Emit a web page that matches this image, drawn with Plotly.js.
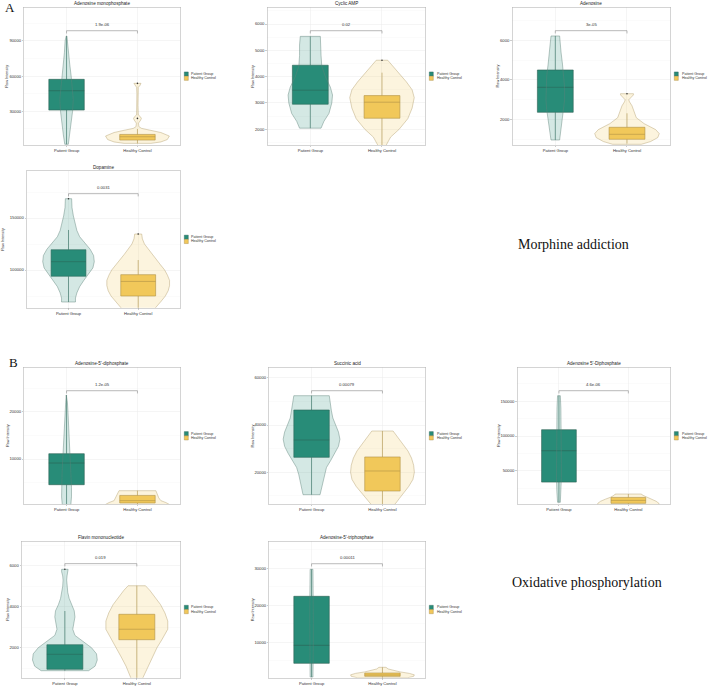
<!DOCTYPE html>
<html><head><meta charset="utf-8">
<script src="https://cdn.plot.ly/plotly-3.0.1.min.js"></script>
<style>html,body{margin:0;padding:0;background:#fff}#chart{width:709px;height:686px}</style>
</head><body><div id="chart"></div>
<script>
// ---------------- DATA ----------------
const titles = ['Adenosine monophosphate','Cyclic AMP','Adenosine','Dopamine',
  "Adenosine-5'-diphosphate",'Succinic acid',"Adenosine 5'-Diphosphate",
  'Flavin mononucleotide',"Adenosine-5'-triphosphate"];
const groups = ['Patient Group','Healthy Control'];
const yAxisTitle = 'Raw Intensity';
const pvalues = ['1.9e-06','0.02','3e-05','0.0031','1.2e-05','0.00079','4.6e-06','0.019','0.00011'];
const sigY = [98500, 5745, 6484, 173400, 24440, 54500, 165300, 6100, 31240];

// Patient group box statistics
const pQ1  = [31100, 2950, 2373, 94000, 4570, 26330, 33570, 946, 4320];
const pMed = [47500, 3483, 3632, 108000, 9150, 33660, 78800, 1678, 9190];
const pQ3  = [57200, 4433, 4504, 119500, 11120, 46340, 109080, 2146, 22430];
const pLo  = [2000, 2040, 977, 69230, 400, 10530, 4470, 878, 600];
const pHi  = [94000, 5530, 6217, 138500, 23530, 52390, 158070, 3790, 29730];
const pOut = [[], [], [], [168560], [], [], [], [5824], []];

// Healthy control box statistics
const hQ1  = [5600, 2418, 1013, 75000, 700, 12100, 3000, 2390, 800];
const hMed = [8400, 3027, 1264, 89000, 1200, 20550, 7200, 2900, 1170];
const hQ3  = [10400, 3278, 1617, 95500, 2300, 26480, 11500, 3630, 1700];
const hLo  = [2800, 1100, 800, 60000, 300, 5000, 1000, 400, 400];
const hHi  = [15000, 4150, 2322, 109600, 3300, 37460, 16400, 5024, 3240];
const hOut = [[24000, 53800], [4623], [3310], [134600], [], [], [], [], []];

// Violin outlines: intensity levels and half-widths (category units)
const pVioY = [
  [2000,10000,20000,30000,40000,50000,60000,70000,80000,90000,94000],
  [2040,2300,2600,3000,3300,3600,4000,4400,4800,5200,5530],
  [977,1500,2000,2500,3000,3600,4200,4800,5400,6000,6217],
  [69230,73000,78000,84000,90000,96000,102000,108000,114000,120000,126000,132000,138000,145000,152000,160000,165000,168560],
  [300,2000,4000,6000,8000,10000,12000,14000,16000,18000,20000,22000,23530],
  [10530,13000,16000,19000,22000,25000,28000,31000,34000,37000,40000,43000,46000,49000,52390],
  [4470,20000,40000,60000,80000,100000,120000,140000,158070],
  [878,1100,1400,1700,2000,2300,2600,2900,3200,3500,3800,4100,4400,4700,5000,5300,5500,5700,5824],
  [600,5000,10000,15000,20000,25000,29730]
];
const pVioW = [
  [0.025,0.045,0.07,0.085,0.095,0.085,0.065,0.045,0.03,0.02,0.005],
  [0.15,0.19,0.26,0.30,0.31,0.28,0.21,0.16,0.15,0.15,0.14],
  [0.06,0.08,0.10,0.12,0.13,0.13,0.12,0.10,0.08,0.065,0.06],
  [0.10,0.10,0.12,0.16,0.22,0.29,0.35,0.37,0.36,0.31,0.23,0.16,0.12,0.09,0.07,0.05,0.045,0.045],
  [0.06,0.07,0.07,0.065,0.06,0.055,0.045,0.04,0.035,0.03,0.02,0.012,0.005],
  [0.12,0.14,0.16,0.18,0.21,0.27,0.33,0.38,0.40,0.38,0.34,0.30,0.28,0.27,0.25],
  [0.02,0.03,0.035,0.035,0.035,0.035,0.03,0.028,0.02],
  [0.33,0.42,0.45,0.44,0.37,0.25,0.14,0.11,0.12,0.14,0.13,0.09,0.06,0.04,0.03,0.025,0.03,0.045,0.045],
  [0.02,0.025,0.025,0.025,0.025,0.025,0.02]
];
const hVioY = [
  [2800,4000,6000,9000,12000,14000,15500,17000,20000,22500,24000,25500,27000,35000,45000,50400,52000,53800],
  [1000,1400,1700,2000,2400,2800,3200,3500,3800,4100,4400,4623],
  [760,900,1100,1300,1500,1800,2100,2400,2700,2900,3000,3100,3250,3310],
  [60000,65000,70000,75000,80000,85000,90000,95000,100000,105000,110000,115000,120000,125000,130000,134600],
  [0,400,800,1200,1800,2400,3000,3300],
  [5000,7000,9000,11000,14000,17000,20000,23000,26000,29000,32000,35000,37460],
  [0,3000,6000,9000,12000,15000,16400],
  [500,800,1100,1500,2000,2400,2900,3300,3700,4100,4500,4800,5024],
  [400,800,1200,1600,2000,2400,2800,3240]
];
const hVioW = [
  [0.19,0.33,0.42,0.45,0.33,0.18,0.06,0.02,0.015,0.045,0.055,0.04,0.012,0.008,0.008,0.012,0.035,0.05],
  [0.03,0.06,0.12,0.24,0.36,0.42,0.45,0.42,0.34,0.25,0.15,0.08],
  [0.20,0.33,0.43,0.45,0.40,0.24,0.13,0.10,0.07,0.035,0.025,0.05,0.09,0.09],
  [0.20,0.27,0.33,0.39,0.43,0.45,0.45,0.42,0.38,0.32,0.26,0.20,0.14,0.09,0.06,0.05],
  [0.45,0.45,0.40,0.33,0.30,0.28,0.27,0.26],
  [0.12,0.19,0.24,0.29,0.37,0.43,0.45,0.44,0.41,0.36,0.29,0.21,0.15],
  [0.45,0.44,0.40,0.33,0.25,0.20,0.19],
  [0.08,0.12,0.15,0.21,0.28,0.35,0.43,0.43,0.39,0.33,0.25,0.18,0.12],
  [0.35,0.44,0.45,0.38,0.25,0.15,0.08,0.05]
];
const yTickStep = [30000,1000,2000,50000,10000,20000,50000,2000,10000];
const yRanges = [[1400,118400],[1400,6635],[725,7662],[63750,195200],[423,29390],
                 [6470,64400],[1585,199000],[537,7190],[432,37300]];
const sectionLabels = ['A','B'];
const sectionNames = ['Morphine addiction','Oxidative phosphorylation'];

// ---------------- LAYOUT GEOMETRY (px) ----------------
const W = 709, H = 686;
const panels = [
  [24,180,7.3,145],[267.3,425,7.3,145],[512.3,670,7.3,145],
  [26.7,180,171,307.7],
  [24,180,367.3,504.3],[269,425,367.3,504.3],[517.3,670,367.3,504.3],
  [21.7,180,541.3,677.7],[269,425,541.3,677.7]
];
const yTitleX = [7.5,252.7,498.3,3.5,7.3,252.7,498.3,7.3,252.7];

const SANS = 'Liberation Sans, Arial, sans-serif';
const SERIF = 'Liberation Serif, Times New Roman, serif';
const teal = '#288c78', tealLine = '#2c5f53', tealVio = 'rgba(40,140,120,0.2)', tealVioLine = 'rgba(95,130,122,0.9)';
const yel = '#f2c85a', yelLine = '#a08442', yelVio = 'rgba(242,200,90,0.2)', yelVioLine = 'rgba(180,160,110,0.9)';

const traces = [];
const annotations = [];
const shapes = [];
const layout = {
  width: W, height: H, margin: {l:0,r:0,t:0,b:0},
  paper_bgcolor: '#fff', plot_bgcolor: '#fff', showlegend: false,
  boxmode: 'overlay', font: {family: SANS, color: '#333'}
};
const px = v => v / W, py = v => 1 - v / H;

function violin(c, ys, ws) {
  const x = [], y = [];
  for (let k = 0; k < ys.length; k++) { x.push(c + ws[k]); y.push(ys[k]); }
  for (let k = ys.length - 1; k >= 0; k--) { x.push(c - ws[k]); y.push(ys[k]); }
  x.push(x[0]); y.push(y[0]);
  return {x, y};
}

for (let i = 0; i < 9; i++) {
  const s = i === 0 ? '' : String(i + 1);
  const xa = 'x' + s, ya = 'y' + s;
  const [x0, x1, y0, y1] = panels[i];
  const step = yTickStep[i];
  layout['xaxis' + s] = {
    domain: [px(x0), px(x1)], anchor: ya, range: [-0.6, 1.6],
    tickmode: 'array', tickvals: [0, 1], ticktext: groups,
    showgrid: true, gridcolor: '#ececec', gridwidth: 0.5, zeroline: false,
    showline: true, mirror: true, linecolor: '#b8b8b8', linewidth: 0.6,
    ticks: 'outside', ticklen: 1.5, tickwidth: 0.5, tickcolor: '#999',
    tickfont: {size: 4.1, color: '#333', family: SANS}, automargin: false, fixedrange: true
  };
  layout['yaxis' + s] = {
    domain: [py(y1), py(y0)], anchor: xa, range: yRanges[i],
    tickmode: 'linear', tick0: 0, dtick: step, tickformat: 'd',
    minor: {dtick: step / 2, tick0: 0, showgrid: true, gridcolor: '#f5f5f5', gridwidth: 0.4},
    showgrid: true, gridcolor: '#ececec', gridwidth: 0.5, zeroline: false,
    showline: true, mirror: true, linecolor: '#b8b8b8', linewidth: 0.6,
    ticks: 'outside', ticklen: 1.5, tickwidth: 0.5, tickcolor: '#999',
    tickfont: {size: 4.2, color: '#333', family: SANS}, automargin: false, fixedrange: true
  };

  // boxes
  traces.push({type:'box', orientation:'v', x:[0], q1:[pQ1[i]], median:[pMed[i]], q3:[pQ3[i]],
    lowerfence:[pLo[i]], upperfence:[pHi[i]], width:0.5, whiskerwidth:0, boxpoints:false,
    fillcolor: teal, line:{color: tealLine, width:0.6}, xaxis: xa, yaxis: ya, hoverinfo:'skip'});
  traces.push({type:'box', orientation:'v', x:[1], q1:[hQ1[i]], median:[hMed[i]], q3:[hQ3[i]],
    lowerfence:[hLo[i]], upperfence:[hHi[i]], width:0.5, whiskerwidth:0, boxpoints:false,
    fillcolor: yel, line:{color: yelLine, width:0.6}, xaxis: xa, yaxis: ya, hoverinfo:'skip'});

  // violins
  const vp = violin(0, pVioY[i], pVioW[i]);
  traces.push({type:'scatter', mode:'lines', x: vp.x, y: vp.y, fill:'toself', fillcolor: tealVio,
    line:{color: tealVioLine, width:0.5}, xaxis: xa, yaxis: ya, hoverinfo:'skip'});
  const vh = violin(1, hVioY[i], hVioW[i]);
  traces.push({type:'scatter', mode:'lines', x: vh.x, y: vh.y, fill:'toself', fillcolor: yelVio,
    line:{color: yelVioLine, width:0.5}, xaxis: xa, yaxis: ya, hoverinfo:'skip'});

  // outliers
  if (pOut[i].length) traces.push({type:'scatter', mode:'markers', x: pOut[i].map(() => 0), y: pOut[i],
    marker:{size:1.6, color:'#333'}, xaxis: xa, yaxis: ya, hoverinfo:'skip'});
  if (hOut[i].length) traces.push({type:'scatter', mode:'markers', x: hOut[i].map(() => 1), y: hOut[i],
    marker:{size:1.6, color:'#333'}, xaxis: xa, yaxis: ya, hoverinfo:'skip'});

  // significance bracket
  const tip = 0.02 * (yRanges[i][1] - yRanges[i][0]);
  traces.push({type:'scatter', mode:'lines', x:[0,0,1,1], y:[sigY[i]-tip, sigY[i], sigY[i], sigY[i]-tip],
    line:{color:'#8a8a8a', width:0.6}, xaxis: xa, yaxis: ya, hoverinfo:'skip'});
  annotations.push({xref: xa, yref: ya, x: 0.5, y: sigY[i], yshift: 6, text: pvalues[i],
    showarrow: false, yanchor: 'middle', font: {size: 4.2, color: '#333', family: SANS}});

  // panel title
  annotations.push({xref:'paper', yref:'paper', x: px((x0 + x1) / 2), y: py(y0 - 3.8), text: titles[i],
    showarrow:false, xanchor:'center', yanchor:'middle', font:{size:4.6, color:'#222', family: SANS}});
  // y axis title
  annotations.push({xref:'paper', yref:'paper', x: px(yTitleX[i]), y: py((y0 + y1) / 2), text: yAxisTitle,
    textangle: -90, showarrow:false, xanchor:'center', yanchor:'middle', font:{size:3.8, color:'#333', family: SANS}});

  // legend keys
  const cy = (y0 + y1) / 2, lx = x1 + 4.3;
  shapes.push({type:'rect', xref:'paper', yref:'paper', x0: px(lx), x1: px(lx + 4), y0: py(cy - 4.2), y1: py(cy),
    fillcolor: teal, line:{color: tealLine, width: 0.4}});
  shapes.push({type:'rect', xref:'paper', yref:'paper', x0: px(lx), x1: px(lx + 4), y0: py(cy), y1: py(cy + 4.2),
    fillcolor: yel, line:{color: yelLine, width: 0.4}});
  annotations.push({xref:'paper', yref:'paper', x: px(lx + 5.2), y: py(cy - 2.1), text: groups[0],
    showarrow:false, xanchor:'left', yanchor:'middle', font:{size:3.6, color:'#333', family: SANS}});
  annotations.push({xref:'paper', yref:'paper', x: px(lx + 5.2), y: py(cy + 2.1), text: groups[1],
    showarrow:false, xanchor:'left', yanchor:'middle', font:{size:3.6, color:'#333', family: SANS}});
}

// section labels
annotations.push({xref:'paper', yref:'paper', x: px(2.5), y: py(7.5), text: sectionLabels[0], showarrow:false,
  xanchor:'left', yanchor:'middle', font:{size:13, color:'#111', family: SERIF}});
annotations.push({xref:'paper', yref:'paper', x: px(6.5), y: py(362.5), text: sectionLabels[1], showarrow:false,
  xanchor:'left', yanchor:'middle', font:{size:13, color:'#111', family: SERIF}});
annotations.push({xref:'paper', yref:'paper', x: px(573.5), y: py(244), text: sectionNames[0], showarrow:false,
  xanchor:'center', yanchor:'middle', font:{size:14, color:'#111', family: SERIF}});
annotations.push({xref:'paper', yref:'paper', x: px(587), y: py(582), text: sectionNames[1], showarrow:false,
  xanchor:'center', yanchor:'middle', font:{size:14, color:'#111', family: SERIF}});

layout.annotations = annotations;
layout.shapes = shapes;
Plotly.newPlot('chart', traces, layout, {displayModeBar:false, staticPlot:true});
</script></body></html>
